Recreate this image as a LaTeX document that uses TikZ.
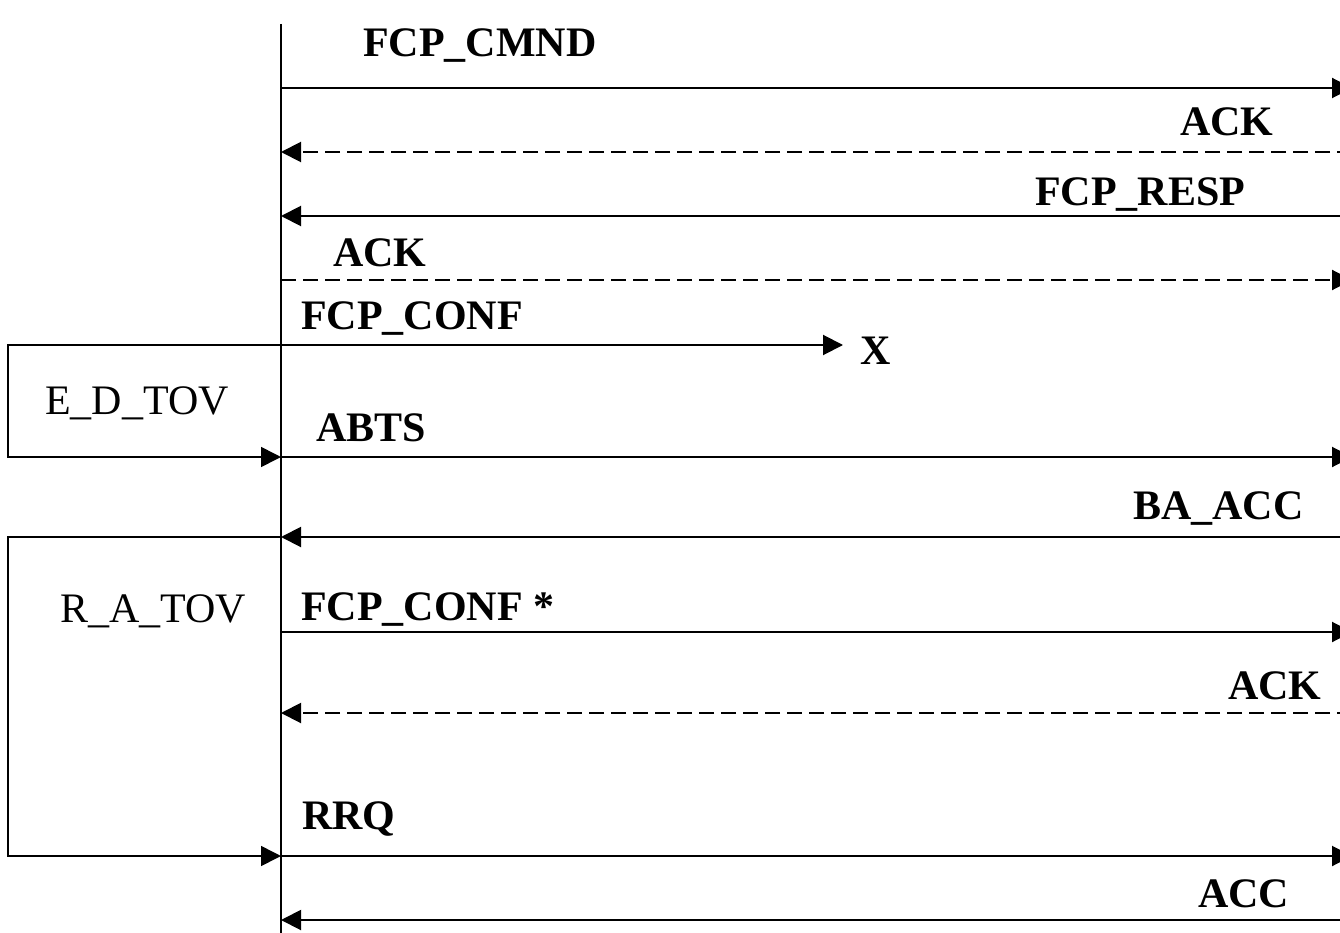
\documentclass[tikz,border=0pt]{standalone}
\usepackage{fontspec}
\setmainfont{Liberation Serif}
\usetikzlibrary{arrows.meta}
\tikzset{
  msg/.style={line width=2pt,-{Triangle[length=20pt,width=20pt]}},
  dmsg/.style={msg,dash pattern=on 15pt off 7pt},
  tbox/.style={line width=1.6pt,-{Triangle[length=20pt,width=20pt]}},
  lbl/.style={anchor=base west,inner sep=0pt,font=\fontsize{42}{48}\selectfont\bfseries},
  tlbl/.style={anchor=base west,inner sep=0pt,font=\fontsize{42}{48}\selectfont},
}
\begin{document}
\begin{tikzpicture}[x=1pt,y=-1pt]
\useasboundingbox (0,0) rectangle (1340,933);
% lifeline
\coordinate (top) at (281,24);
\coordinate (bot) at (281,940);
\draw[line width=2pt] (top) -- (bot);
% coordinates
\foreach \n/\y in {1/88,2/152,3/216,4/280,5/345,6/457,7/537,8/632,9/713,10/856,11/920}{
  \coordinate (L\n) at (281,\y);
  \coordinate (R\n) at (1352,\y);
}
\coordinate (X) at (843,345);
\coordinate (B1a) at (8,345);
\coordinate (B1b) at (8,457);
\coordinate (B2a) at (8,537);
\coordinate (B2b) at (8,856);
% messages
\draw[msg] (L1) -- (R1);
\draw[dmsg] (R2) -- (L2);
\draw[msg] (R3) -- (L3);
\draw[dmsg] (L4) -- (R4);
\draw[msg] (L5) -- (X);
\draw[msg] (L6) -- (R6);
\draw[msg] (R7) -- (L7);
\draw[msg] (L8) -- (R8);
\draw[dmsg] (R9) -- (L9);
\draw[msg] (L10) -- (R10);
\draw[msg] (R11) -- (L11);
% timer boxes
\draw[tbox] (L5) -- (B1a) -- (B1b) -- (L6);
\draw[tbox] (L7) -- (B2a) -- (B2b) -- (L10);
% labels
\node[lbl] (t1) at (363,57) {FCP\_CMND};
\node[lbl] (t2) at (1180,136) {ACK};
\node[lbl] (t3) at (1035,206) {FCP\_RESP};
\node[lbl] (t4) at (333,266) {ACK};
\node[lbl] (t5) at (301,329) {FCP\_CONF};
\node[lbl] (tx) at (860,364) {X};
\node[lbl] (t6) at (316,441) {ABTS};
\node[lbl] (t7) at (1133,519) {BA\_ACC};
\node[lbl] (t8) at (301,620) {FCP\_CONF *};
\node[lbl] (t9) at (1228,699) {ACK};
\node[lbl] (t10) at (302,829) {RRQ};
\node[lbl] (t11) at (1198,907) {ACC};
\node[tlbl] (ed) at (45,414) {E\_D\_TOV};
\node[tlbl] (ra) at (60,622) {R\_A\_TOV};
\end{tikzpicture}
\end{document}
